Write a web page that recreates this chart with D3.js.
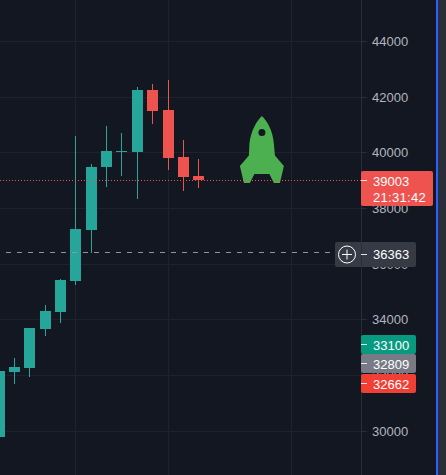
<!DOCTYPE html>
<html><head><meta charset="utf-8">
<script src="https://cdn.jsdelivr.net/npm/d3@7"></script>
<style>html,body{margin:0;padding:0;background:#131722;overflow:hidden}svg{display:block}</style>
</head><body><svg id="c" width="446" height="475"></svg>
<script>
const opens  = [29756,32094,32238,33641,34252,35367,37202,39468,40025,40007,42237,41518,39827,39144];
const closes = [32130,32274,33677,34288,35403,37238,39468,40043,40043,42237,41482,39792,39108,39003];
const highs  = [32130,32598,33677,34504,35439,40583,39576,40943,40691,42345,42453,42597,40439,39756];
const lows   = [29756,31662,31914,33389,33856,35223,36374,38748,39144,38317,41014,39360,38604,38712];
const yTicks = [44000,42000,40000,38000,36000,34000,32000,30000];
const xGrid  = [5,11,19.05];
const lastPrice = 39003, countdown = "21:31:42", crossPrice = 36363;
const priceTags = [
  {v:33100,fill:"#089981",cy:344.5},
  {v:32809,fill:"#787b86",cy:363.5},
  {v:32662,fill:"#f23f36",cy:383.5}
];
const rocketAnchor = {i:17.14,price:39000};
const rocketPath = "M0,-64 C5,-59 11,-50 12,-36 L13,-24.5 L22,-14 L18,3 L12,3 L7.5,-6 L-7.5,-6 L-12,3 L-18,3 L-22,-14 L-13,-24.5 L-12.5,-36 C-11,-50 -5,-59 0,-64 Z";

const W=446,H=475,axisX=361;
const BG="#131722",GRID="#1e222d",UP="#26a69a",DOWN="#ef5350",TXT="#b2b5be";
const FONT="'Liberation Sans',Arial,sans-serif";
const x=d3.scaleLinear().domain([0,13]).range([-1,198.4]);
const y=d3.scaleLinear().domain([30000,44000]).range([430.5,41]);
const px=i=>Math.floor(x(i)+0.29);
const py=v=>Math.round(y(v));
const svg=d3.select("#c");
svg.append("rect").attr("width",W).attr("height",H).attr("fill",BG);
const g=svg.append("g").attr("shape-rendering","crispEdges");
g.selectAll(".gx").data(xGrid).join("rect").attr("x",d=>px(d)).attr("y",0).attr("width",1).attr("height",H).attr("fill",GRID);
g.selectAll(".gy").data(yTicks).join("rect").attr("x",0).attr("y",d=>py(d)).attr("width",axisX).attr("height",1).attr("fill",GRID);
g.append("rect").attr("x",axisX).attr("y",0).attr("width",1).attr("height",H).attr("fill","#2a2e39");
g.selectAll(".tk").data(yTicks).join("rect").attr("x",axisX).attr("y",d=>py(d)).attr("width",6).attr("height",1).attr("fill","#2a2e39");
svg.selectAll(".yl").data(yTicks).join("text").attr("x",372).attr("y",d=>py(d)+5).attr("fill",TXT)
  .attr("font-family",FONT).attr("font-size",13).text(d=>d);
// candles
const idx=d3.range(opens.length);
const col=i=>closes[i]>=opens[i]?UP:DOWN;
g.selectAll(".w").data(idx).join("rect").attr("x",px).attr("y",i=>py(highs[i])).attr("width",1)
 .attr("height",i=>py(lows[i])-py(highs[i])).attr("fill",col);
g.selectAll(".b").data(idx).join("rect").attr("x",i=>px(i)-5).attr("y",i=>py(Math.max(opens[i],closes[i]))).attr("width",11)
 .attr("height",i=>Math.max(1,py(Math.min(opens[i],closes[i]))-py(Math.max(opens[i],closes[i])))).attr("fill",col);
// rocket
const r=svg.append("g").attr("transform",`translate(${x(rocketAnchor.i)},${y(rocketAnchor.price)})`);
r.append("path").attr("d",rocketPath).attr("fill","#4caf50");
r.append("circle").attr("cx",0).attr("cy",-47.5).attr("r",3.5).attr("fill",BG);
// lines
svg.append("line").attr("x1",0).attr("x2",axisX).attr("y1",py(lastPrice)+.5).attr("y2",py(lastPrice)+.5)
 .attr("stroke",DOWN).attr("stroke-dasharray","1 2");
svg.append("line").attr("x1",6).attr("x2",331).attr("y1",py(crossPrice)-.5).attr("y2",py(crossPrice)-.5)
 .attr("stroke","#8b97a5").attr("stroke-dasharray","5 6");
// right edge
g.append("rect").attr("x",436).attr("y",0).attr("width",2).attr("height",H).attr("fill","#2962ff");
g.append("rect").attr("x",438).attr("y",0).attr("width",8).attr("height",H).attr("fill","#2a2e39");
// tags
function tag(x0,y0,w,h,fill){
  svg.append("rect").attr("x",x0).attr("y",y0).attr("width",w).attr("height",h).attr("rx",2).attr("fill",fill);
}
function tagTick(yy){svg.append("rect").attr("x",axisX).attr("y",yy).attr("width",6).attr("height",1).attr("fill","#fff").attr("opacity",.85).attr("shape-rendering","crispEdges");}
function tagText(yy,t,ls){svg.append("text").attr("x",373).attr("y",yy).attr("fill","#fff").attr("font-family",FONT).attr("font-size",13).attr("letter-spacing",ls||0).text(t);}
// crosshair tag
tag(335,242,81,25,"#363a45");
svg.append("rect").attr("x",361).attr("y",242).attr("width",1).attr("height",25).attr("fill","#2a2e39");
tagTick(254);tagText(259,crossPrice);
svg.append("circle").attr("cx",347).attr("cy",254.5).attr("r",8.5).attr("fill","none").attr("stroke","#fff");
svg.append("path").attr("d","M342,254.5H352M347,249.5V259.5").attr("stroke","#fff");
// price tags
priceTags.forEach(t=>{tag(361,t.cy-9.5,55,19,t.fill);tagTick(t.cy-0.5);tagText(t.cy+5,t.v);});
// last price tag
tag(361,171,72,35,DOWN);
tagTick(180);tagText(186,lastPrice);tagText(202,countdown,0.3);
</script></body></html>
